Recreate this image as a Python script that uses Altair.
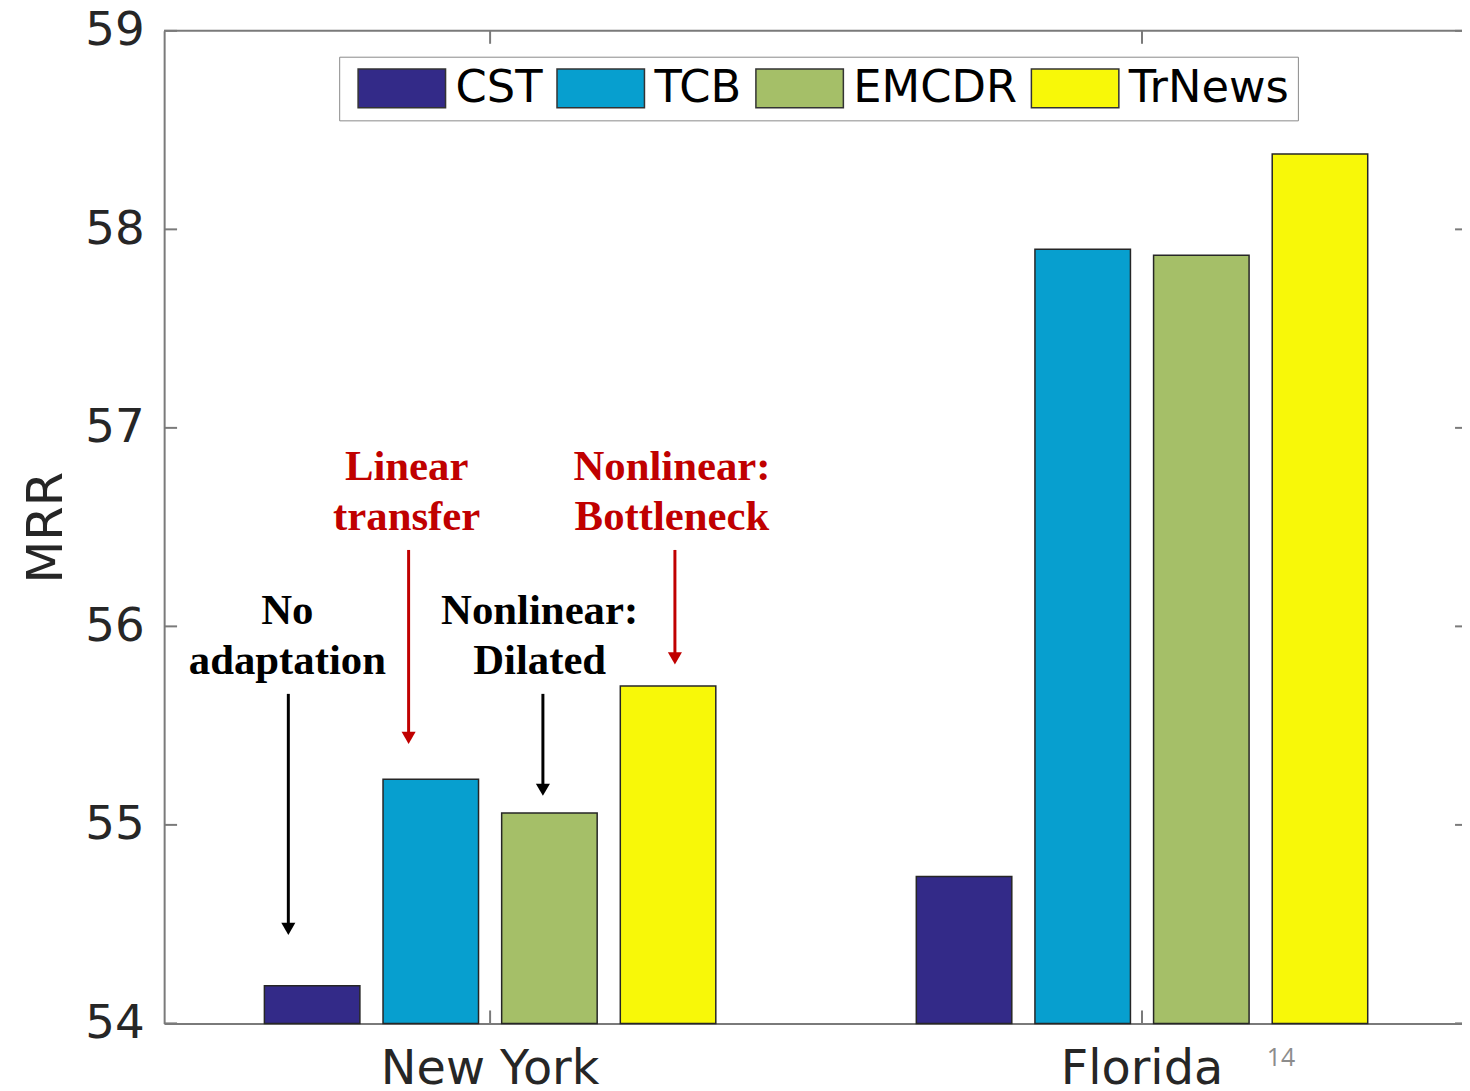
import altair as alt
import pandas as pd

regions = ["New York", "Florida"]
methods = ["CST", "TCB", "EMCDR", "TrNews"]
ny_values = [54.19, 55.23, 55.06, 55.70]
fl_values = [54.74, 57.90, 57.87, 58.38]
colors = ["#332a88", "#079fcf", "#a5bf68", "#f8f808"]
y_ticks = [54, 55, 56, 57, 58, 59]

ann_labels = ["No\nadaptation", "Linear\ntransfer", "Nonlinear:\nDilated", "Nonlinear:\nBottleneck"]
ann_text_x = [0.689, 0.872, 1.076, 1.279]
ann_text_y = [56.01, 56.735, 56.01, 56.735]
ann_arrow_x = [0.6905, 0.875, 1.081, 1.2835]
ann_arrow_start = [55.66, 56.385, 55.66, 56.385]
ann_arrow_end = [54.446, 55.408, 55.147, 55.809]
ann_colors = ["#000000", "#c00000", "#000000", "#c00000"]
page_number = ["14"]

W, H = 1305, 998
FULL_W = 1311

rows = []
for r, vals in zip(regions, [ny_values, fl_values]):
    for m, v in zip(methods, vals):
        rows.append({"region": r, "method": m, "value": v})
df = pd.DataFrame(rows)

ann = pd.DataFrame({
    "label": ann_labels, "tx": ann_text_x, "ty": ann_text_y,
    "ax": ann_arrow_x, "a0": ann_arrow_start, "a1": ann_arrow_end,
    "color": ann_colors,
})

yscale = alt.Scale(domain=[54, 59], nice=False, zero=False)
xq = alt.Scale(domain=[0.5, 2.5], nice=False, zero=False, rangeMax=FULL_W)
xband = alt.Scale(type="band", paddingInner=0, paddingOuter=0, rangeMax=FULL_W)

bars = alt.Chart(df).mark_bar(stroke="#262626", strokeWidth=1.5, opacity=1).encode(
    x=alt.X("region:N", sort=regions, scale=xband, title=None),
    xOffset=alt.XOffset("method:N", sort=methods,
                        scale=alt.Scale(paddingInner=0.195, paddingOuter=0.845)),
    y=alt.Y("value:Q", scale=yscale, title="MRR",
            axis=alt.Axis(values=y_ticks, format="d")),
    y2=alt.datum(54),
    color=alt.Color("method:N", sort=methods,
                    scale=alt.Scale(domain=methods, range=colors),
                    legend=alt.Legend(
                        orient="none", legendX=176, legendY=26,
                        direction="horizontal", columns=4, title=None,
                        symbolType="M-0.64,-1H3.87V1H-0.64Z", symbolSize=1521,
                        symbolStrokeColor="#333333", symbolStrokeWidth=1.5,
                        symbolOpacity=1,
                        labelFont="DejaVu Sans", labelFontSize=45, labelLimit=0,
                        labelColor="#000000", labelOffset=63,
                        columnPadding=4, padding=9,
                        strokeColor="#8a8a8a", fillColor="white",
                    )),
)

tick_df = pd.DataFrame({"value": y_ticks})
y_ticks_left = alt.Chart(tick_df).mark_rule(color="#7a7a7a", strokeWidth=2).encode(
    y=alt.Y("value:Q", scale=yscale, title="MRR"),
    x=alt.value(0), x2=alt.value(13),
)
y_ticks_right = alt.Chart(tick_df).mark_rule(color="#7a7a7a", strokeWidth=2).encode(
    y=alt.Y("value:Q", scale=yscale, title="MRR"),
    x=alt.value(W - 7), x2=alt.value(W),
)
top_line = alt.Chart(pd.DataFrame({"value": [59]})).mark_rule(
    color="#7a7a7a", strokeWidth=2).encode(
    y=alt.Y("value:Q", scale=yscale, title="MRR"),
)

reg_df = pd.DataFrame({"region": regions})
x_ticks_bottom = alt.Chart(reg_df).mark_rule(color="#7a7a7a", strokeWidth=2).encode(
    x=alt.X("region:N", sort=regions, scale=xband, axis=None),
    y=alt.value(H), y2=alt.value(H - 13),
)
x_ticks_top = alt.Chart(reg_df).mark_rule(color="#7a7a7a", strokeWidth=2).encode(
    x=alt.X("region:N", sort=regions, scale=xband, axis=None),
    y=alt.value(0), y2=alt.value(13),
)

ann_text = alt.Chart(ann).mark_text(
    font="Liberation Serif", fontWeight="bold", fontSize=43,
    lineBreak="\n", lineHeight=50, align="center", baseline="alphabetic",
).encode(
    x=alt.X("tx:Q", scale=xq, axis=None),
    y=alt.Y("ty:Q", scale=yscale, title="MRR"),
    text="label:N",
    color=alt.Color("color:N", scale=None),
)
ann_lines = alt.Chart(ann).mark_rule(strokeWidth=3, y2Offset=-8).encode(
    x=alt.X("ax:Q", scale=xq, axis=None),
    y=alt.Y("a0:Q", scale=yscale, title="MRR"),
    y2="a1:Q",
    color=alt.Color("color:N", scale=None),
)
ann_heads = alt.Chart(ann).mark_point(
    shape="triangle-down", filled=True, size=200, opacity=1, yOffset=-6,
).encode(
    x=alt.X("ax:Q", scale=xq, axis=None),
    y=alt.Y("a1:Q", scale=yscale, title="MRR"),
    color=alt.Color("color:N", scale=None),
)

page_num = alt.Chart(pd.DataFrame({"t": page_number})).mark_text(
    font="Open Sans", fontSize=25, color="#8c8c8c", align="center", baseline="middle",
).encode(x=alt.value(1123), y=alt.value(1033), text="t:N")

chart = alt.layer(
    bars, y_ticks_left, y_ticks_right, top_line, x_ticks_bottom, x_ticks_top,
    ann_lines, ann_heads, ann_text, page_num,
).resolve_scale(x="independent", color="independent").properties(
    width=W, height=H,
    autosize=alt.AutoSizeParams(type="none"),
    padding={"left": 157, "top": 20, "right": 0, "bottom": 65},
).configure_view(stroke=None).configure_axis(
    grid=False, ticks=False, domainColor="#7a7a7a", domainWidth=2,
    labelColor="#262626", labelFont="DejaVu Sans", titleFont="DejaVu Sans",
    titleColor="#262626", titleFontWeight="normal", labelLimit=0,
).configure_axisY(
    labelFontSize=47, labelPadding=20, titleFontSize=50, titleX=-103,
    titleY=H / 2, titleAngle=270, titleBaseline="alphabetic", titleAlign="center",
).configure_axisX(
    labelFontSize=48, labelPadding=22, labelAngle=0,
)

chart.save("out.html", embed_options={"renderer": "svg", "actions": False})
